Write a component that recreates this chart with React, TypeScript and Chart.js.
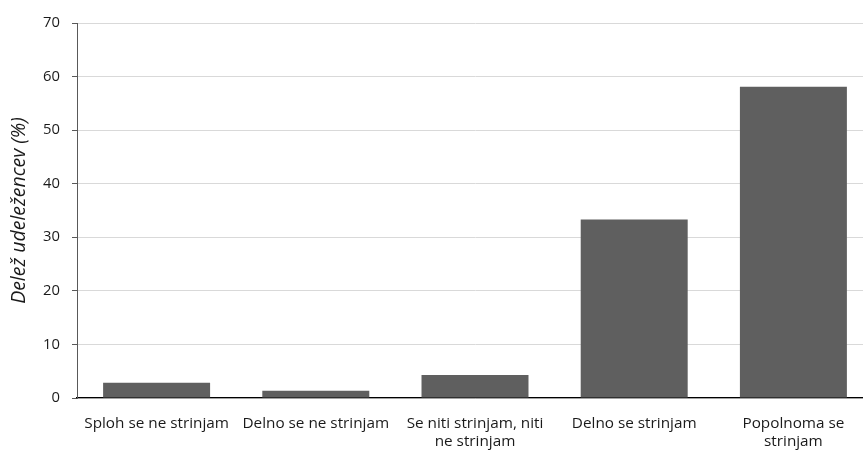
import React, { useEffect, useRef } from "react";
import { Chart, registerables } from "chart.js";

Chart.register(...registerables);

const categories: (string | string[])[] = [
  "Sploh se ne strinjam",
  "Delno se ne strinjam",
  ["Se niti strinjam, niti", "ne strinjam"],
  "Delno se strinjam",
  ["Popolnoma se", "strinjam"],
];
const shares = [2.85, 1.35, 4.3, 33.3, 58.1];
const yMin = 0;
const yMax = 70;
const yStep = 10;
const yTitle = "Delež udeležencev (%)";

const FONT = "'Open Sans', 'Noto Sans', sans-serif";

export default function App() {
  const ref = useRef<HTMLCanvasElement | null>(null);
  useEffect(() => {
    if (!ref.current) return;
    const chart = new Chart(ref.current, {
      type: "bar",
      data: {
        labels: categories,
        datasets: [
          {
            data: shares,
            backgroundColor: "#5f5f5f",
            borderWidth: 0,
            barPercentage: 0.672,
            categoryPercentage: 1,
          },
        ],
      },
      options: {
        animation: false,
        responsive: false,
        maintainAspectRatio: false,
        layout: { padding: { left: 0, right: 3, top: 23, bottom: 0 } },
        plugins: { legend: { display: false }, tooltip: { enabled: false } },
        scales: {
          x: {
            z: 1,
            grid: { display: false, drawTicks: false },
            border: { display: true, color: "#000000", width: 1.3 },
            ticks: {
              color: "#1a1a1a",
              font: { family: FONT, size: 15.3, lineHeight: 1.2 },
              padding: 16,
              maxRotation: 0,
              autoSkip: false,
            },
            afterFit: (s: any) => {
              s.height = 54;
            },
          },
          y: {
            min: yMin,
            max: yMax,
            ticks: {
              stepSize: yStep,
              color: "#1a1a1a",
              font: { family: FONT, size: 14.8 },
              padding: 12,
            },
            grid: { color: "#d9d9d9", tickColor: "#595959", tickLength: 5, lineWidth: 1 },
            border: { display: true, color: "#595959", width: 1 },
            title: {
              display: true,
              text: yTitle,
              color: "#1a1a1a",
              font: { family: FONT, size: 19.5, style: "italic" },
              padding: { top: 8, bottom: 0 },
            },
            afterFit: (s: any) => {
              s.width = 77;
            },
          },
        },
      },
    });
    return () => chart.destroy();
  }, []);
  return (
    <div style={{ position: "fixed", left: 0, top: 0, width: 863, height: 452, overflow: "hidden", background: "#fff" }}>
      <canvas ref={ref} width={876} height={452} style={{ display: "block" }} />
    </div>
  );
}
